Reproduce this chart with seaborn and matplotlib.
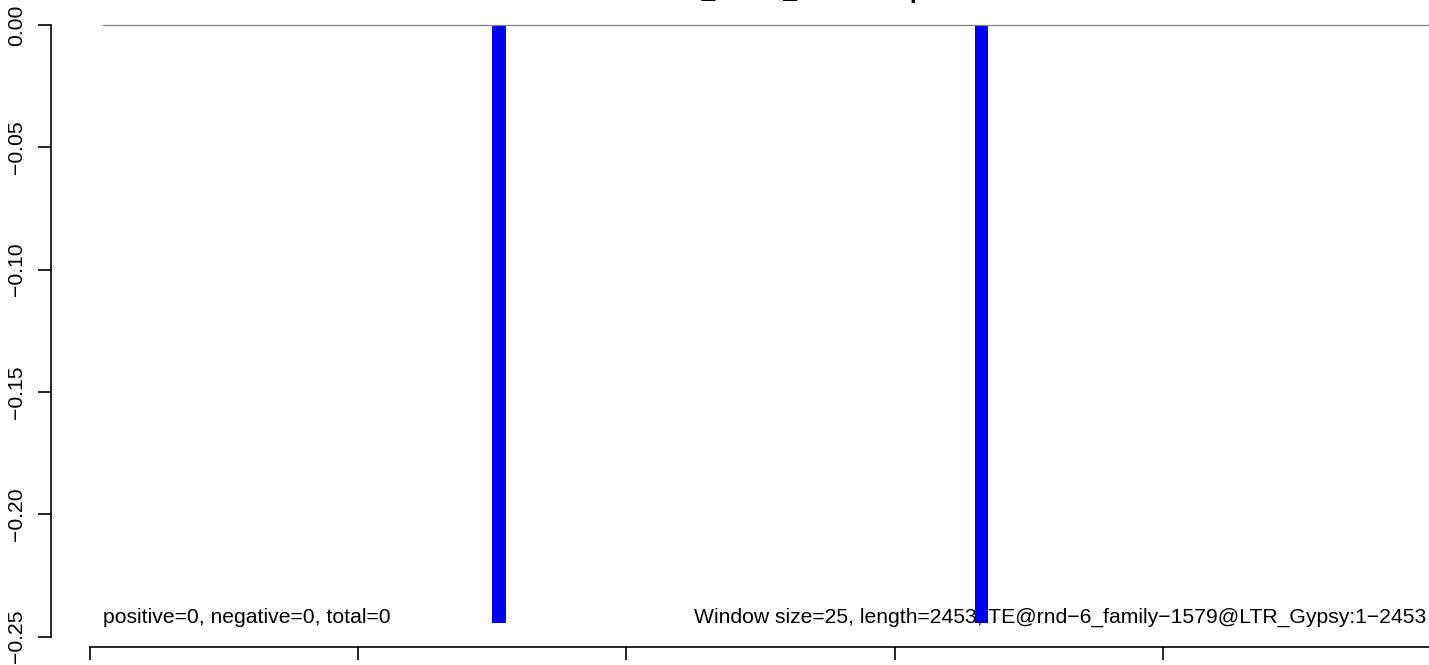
import numpy as np
import matplotlib
matplotlib.use("Agg")
import matplotlib.pyplot as plt
import seaborn as sns

# window coverage data
window_size = 25
seq_length = 2453
bar_start = [750, 1650]
bar_value = [-0.2445, -0.2445]
baseline_x = [25, 2500]
baseline_y = [0.0, 0.0]
y_ticks = [0.0, -0.05, -0.10, -0.15, -0.20, -0.25]
y_labels = ["0.00", "\u22120.05", "\u22120.10", "\u22120.15", "\u22120.20", "\u22120.25"]
x_ticks = [0, 500, 1000, 1500, 2000, 2500]

title = "Control total_sRNA_reads TE plot"
left_note = "positive=0, negative=0, total=0"
right_note = ("Window size=25, length=2453, "
              "TE@rnd\u22126_family\u22121579@LTR_Gypsy:1\u22122453")

sns.set_style("white")
plt.rcParams["font.family"] = ["Liberation Sans", "DejaVu Sans"]
plt.rcParams["text.color"] = "black"

W, H = 1429, 665
fig = plt.figure(figsize=(W / 100, H / 100), dpi=100)
# R-style plot region: xlim/ylim extended by 4%
x_lo, x_hi = window_size, seq_length
y_lo, y_hi = min(bar_value), 0.0
dx = (x_hi - x_lo) * 0.04
dy = (y_hi - y_lo) * 0.04
ax = fig.add_axes([51 / W, 18 / H, 1407 / W, 646 / H])

sns.lineplot(x=baseline_x, y=baseline_y, color="#808080", linewidth=0.9, ax=ax)

centers = np.array(bar_start) + window_size / 2
native = np.diff(centers).min()
sns.barplot(x=centers, y=bar_value, native_scale=True, width=window_size / native,
            color="#0000ff", saturation=1, linewidth=0, errorbar=None, ax=ax)

ax.set_xlim(x_lo - dx, x_hi + dx)
ax.set_ylim(y_lo - dy, y_hi + dy)

for s in ["top", "right"]:
    ax.spines[s].set_visible(False)
ax.spines["left"].set_bounds(-0.25, 0.0)
ax.spines["bottom"].set_bounds(0, 2500)
for s in ["left", "bottom"]:
    ax.spines[s].set_linewidth(1.2)
    ax.spines[s].set_color("black")

ax.set_yticks(y_ticks)
ax.set_yticklabels(y_labels, rotation=90, va="center")
# x tick labels fall below the visible canvas in the reference
ax.set_xticks(x_ticks)
ax.set_xticklabels([])
ax.tick_params(axis="both", direction="out", length=9.7, width=1.2,
               labelsize=15.2, colors="black", pad=8)
ax.tick_params(axis="y", left=True)
ax.tick_params(axis="x", bottom=True)

ax.text(window_size, y_lo, left_note, ha="left", va="baseline",
        fontsize=15.25, color="black")
ax.text(1126, y_lo, right_note, ha="left", va="baseline",
        fontsize=15.25, color="black")

fig.text((51 + 1458) / 2 / W, 1 + 2.1 / H, title, ha="center", va="baseline",
         fontsize=18, fontweight="bold", color="black")

fig.savefig("out.png", dpi=100)
